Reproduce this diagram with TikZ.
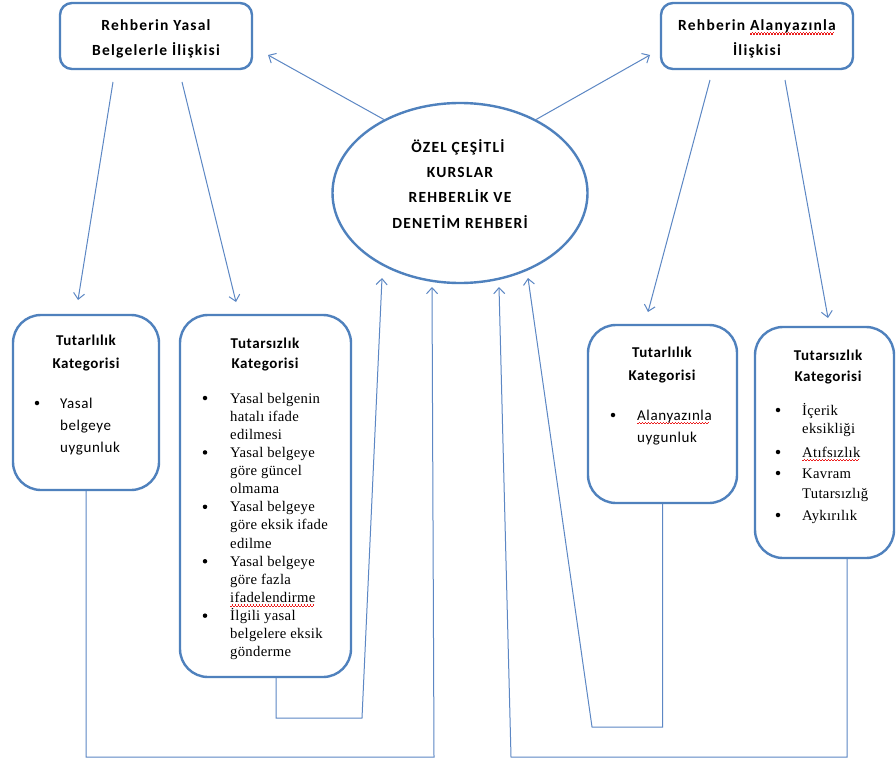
\documentclass[tikz,border=0pt]{standalone}
\usepackage{fontspec}
\setmainfont{Carlito}
\newfontfamily\hdf[LetterSpace=8]{Carlito}
\newfontfamily\bxf[LetterSpace=4]{Carlito}
\newfontfamily\tmf[LetterSpace=2]{Liberation Serif}
\usetikzlibrary{arrows.meta,shapes.geometric}
\definecolor{bl}{RGB}{79,129,189}
\definecolor{cl}{RGB}{92,135,196}
\definecolor{sq}{RGB}{235,30,30}
\newsavebox\spbox
\newsavebox\wvbox
\sbox\wvbox{\color{sq}\vrule width 1.5pt height 0pt depth 1.1pt\vrule width 1.5pt height 1.1pt depth 0pt}
\newcommand\spell[1]{\sbox\spbox{#1}\rlap{\lower3pt\hbox to\wd\spbox{\leaders\copy\wvbox\hfill}}\usebox\spbox}
\begin{document}
\begin{tikzpicture}[x=1pt,y=-1pt,
 box/.style={draw=bl,line width=2.4pt,rounded corners=28pt,inner sep=0pt},
 tbox/.style={draw=bl,line width=2.4pt,rounded corners=12pt,inner sep=0pt},
 con/.style={draw=cl,line width=1pt},
 arr/.style={con,-{Straight Barb[length=6pt,width=11pt]}},
 hd/.style={font=\hdf\bfseries\fontsize{15.5}{18}\selectfont,inner sep=0pt,anchor=base},
 kh/.style={font=\bxf\bfseries\fontsize{15}{18}\selectfont,inner sep=0pt,anchor=base},
 st/.style={font=\bxf\fontsize{15}{18}\selectfont,inner sep=0pt,anchor=base west},
 sr/.style={font=\tmf\fontsize{14.7}{18}\selectfont,inner sep=0pt,anchor=base west},
 bul/.style={circle,fill=black,inner sep=0pt,minimum size=4.5pt}
]
\useasboundingbox[fill=white] (0,0) rectangle (896,762);
% boxes
\node[tbox,minimum width=192pt,minimum height=66pt] (TL) at (156,36) {};
\node[tbox,minimum width=192pt,minimum height=66pt] (TR) at (757,36) {};
\node[draw=bl,line width=2.4pt,ellipse,minimum width=255pt,minimum height=180pt,inner sep=0pt] (E) at (460,193) {};
\node[box,minimum width=146pt,minimum height=175pt] (A) at (86,402.5) {};
\node[box,minimum width=171pt,minimum height=362pt] (B) at (265.5,496) {};
\node[box,minimum width=149pt,minimum height=178pt] (C) at (662.5,414) {};
\node[box,minimum width=139pt,minimum height=231pt] (D) at (824.5,442.5) {};
% top texts
\node[hd] (tlt1) at (156,30.5) {Rehberin Yasal};
\node[hd] (tlt2) at (156,55.5) {Belgelerle İlişkisi};
\node[hd] (trt1) at (757,30.5) {Rehberin \spell{Alanyazınla}};
\node[hd] (trt2) at (757,55.5) {İlişkisi};
\node[hd] (et1) at (458,153) {ÖZEL ÇEŞİTLİ};
\node[hd] (et2) at (460,178) {KURSLAR};
\node[hd] (et3) at (460,203) {REHBERLİK VE};
\node[hd] (et4) at (460,228) {DENETİM REHBERİ};
% box A
\node[kh] (at1) at (86,345) {Tutarlılık};
\node[kh] (at2) at (86,368) {Kategorisi};
\node[bul] (ad) at (37,403) {};
\node[st] (al1) at (60,408) {Yasal};
\node[st] (al2) at (60,430) {belgeye};
\node[st] (al3) at (60,452) {uygunluk};
% box B
\node[kh] (bt1) at (265,348) {Tutarsızlık};
\node[kh] (bt2) at (265,368) {Kategorisi};
\foreach \t [count=\i from 0] in {Yasal belgenin,hatalı ifade,edilmesi,Yasal belgeye,göre güncel,olmama,Yasal belgeye,göre eksik ifade,edilme,Yasal belgeye,göre fazla,\spell{ifadelendirme},İlgili yasal,belgelere eksik,gönderme}
  \node[sr] (bl\i) at (230,{403+18.14*\i}) {\t};
\foreach \i in {0,3,6,9,12}
  \node[bul] (bd\i) at (205,{398+18.14*\i}) {};
% box C
\node[kh] (ct1) at (662,357) {Tutarlılık};
\node[kh] (ct2) at (662,380) {Kategorisi};
\node[bul] (cd) at (613,415) {};
\node[st] (cl1) at (637,420) {\spell{Alanyazınla}};
\node[st] (cl2) at (637,442) {uygunluk};
% box D
\node[kh] (dt1) at (828,360) {Tutarsızlık};
\node[kh] (dt2) at (828,381) {Kategorisi};
\node[bul] (dd1) at (778,410) {};
\node[bul] (dd2) at (778,452) {};
\node[bul] (dd3) at (778,473) {};
\node[bul] (dd4) at (778,515) {};
\node[sr] (dl1) at (802,415) {İçerik};
\node[sr] (dl2) at (802,433) {eksikliği};
\node[sr] (dl3) at (802,457) {\spell{Atıfsızlık}};
\node[sr] (dl4) at (802,478) {Kavram};
\node[sr] (dl5) at (802,498) {Tutarsızlığ};
\node[sr] (dl6) at (802,520) {Aykırılık};
% connector points
\coordinate (tlE) at (268,55);
\coordinate (trE) at (650,55);
\coordinate (tls1) at (113,82); \coordinate (tla) at (78,300);
\coordinate (tls2) at (182,82); \coordinate (tlb) at (236,302);
\coordinate (trs1) at (710,80); \coordinate (trc) at (648,312);
\coordinate (trs2) at (785,80); \coordinate (trd) at (828,318);
\coordinate (pa1) at (86,757); \coordinate (pa2) at (434,757); \coordinate (pa3) at (432,287);
\coordinate (pb1) at (276,718); \coordinate (pb2) at (362,718); \coordinate (pb3) at (382,278);
\coordinate (pc1) at (662.5,727); \coordinate (pc2) at (592,727); \coordinate (pc3) at (528,278);
\coordinate (pd1) at (847,757); \coordinate (pd2) at (511,757); \coordinate (pd3) at (499,287);
% connectors
\draw[arr] (E.136) -- (tlE);
\draw[arr] (E.44) -- (trE);
\draw[arr] (tls1) -- (tla);
\draw[arr] (tls2) -- (tlb);
\draw[arr] (trs1) -- (trc);
\draw[arr] (trs2) -- (trd);
\draw[arr] (A.south) -- (pa1) -- (pa2) -- (pa3);
\draw[arr] ([xshift=10.5pt]B.south) -- (pb1) -- (pb2) -- (pb3);
\draw[arr] (C.south) -- (pc1) -- (pc2) -- (pc3);
\draw[arr] ([xshift=22.5pt]D.south) -- (pd1) -- (pd2) -- (pd3);
\end{tikzpicture}
\end{document}
